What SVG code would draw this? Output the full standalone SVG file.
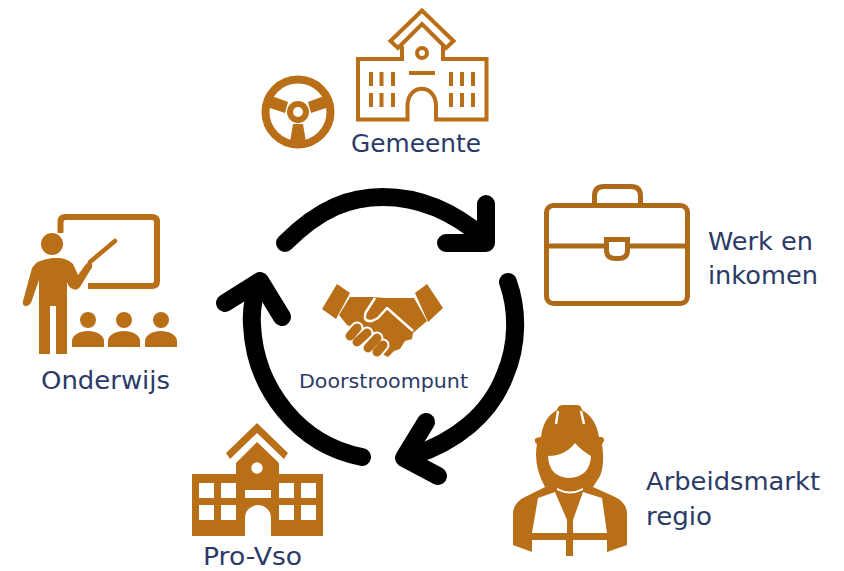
<svg xmlns="http://www.w3.org/2000/svg" width="844" height="571" viewBox="0 0 844 571">
<style>
.t{font-family:"DejaVu Sans",Verdana,sans-serif;font-size:25px;fill:#2b3a67}
.o{fill:#b96f17}
.w{fill:#fff}
.l{fill:none;stroke:#b96f17;stroke-width:4}
.b{fill:none;stroke:#ad6a18;stroke-width:5}
.a{fill:none;stroke:#000;stroke-width:18;stroke-linecap:round;stroke-linejoin:round}
.f{fill:none;stroke:#b96f17;stroke-width:9;stroke-linecap:round}
.g{fill:none;stroke:#fff;stroke-width:13;stroke-linecap:round}
.c{fill:none;stroke:#fff;stroke-width:2.500;stroke-linejoin:round}
</style>
<rect width="844" height="571" fill="#fff"/>
<g id="connectors">
<path class="a" d="M285 243C320 208 350 197 383 197C420 197 455 213 484 238"/>
<path class="a" d="M486 204V243H446"/>
<path class="a" d="M508 282C518 310 518 345 505 375C490 415 455 442 412 456"/>
<path class="a" d="M426 422L404 458L438 476"/>
<path class="a" d="M362 457C300 445 255 390 252 325C251 310 253 298 258 284"/>
<path class="a" d="M225 303L260 281L282 317"/>
</g>
<g id="stuur">
<circle cx="298" cy="112" r="32.500" fill="none" stroke="#b96f17" stroke-width="8"/>
<circle cx="298" cy="112" r="8" fill="none" stroke="#b96f17" stroke-width="6"/>
<path class="o" d="M272 96L288 102L285 113L267 107ZM324 96L308 102L311 113L329 107ZM293 124H303L306 142H290Z"/>
</g>
<g id="gemeente">
<path class="l" d="M422 10.500L390.500 41L398 48L422 24L446 48L453.500 41Z"/>
<path class="l" d="M402 46V59H358V119.500H407.500V106C407.500 83 436 83 436 106V119.500H486.500V59H443V46"/>
<circle class="l" cx="422" cy="53" r="5"/>
<path class="l" d="M409 73H435M371 72V86M371 93V107M381.500 72V86M381.500 93V107M393 72V86M393 93V107M451 72V86M451 93V107M462 72V86M462 93V107M473 72V86M473 93V107"/>
<text class="t" x="351" y="152" textLength="130" lengthAdjust="spacingAndGlyphs">Gemeente</text>
</g>
<g id="werk">
<rect class="b" x="546.500" y="205.500" width="141" height="98" rx="7"/>
<path class="b" d="M594.500 205V196Q594.500 186.500 604 186.500H631Q640.500 186.500 640.500 196V205"/>
<path class="b" d="M546 246H606.500M627.500 246H688M606.500 239.500H627.500V250Q627.500 258.500 619 258.500H615Q606.500 258.500 606.500 250Z"/>
<text class="t" x="708" y="250" textLength="105" lengthAdjust="spacingAndGlyphs">Werk en</text>
<text class="t" x="708" y="284" textLength="110" lengthAdjust="spacingAndGlyphs">inkomen</text>
</g>
<g id="arbeidsmarkt">
<path class="o" d="M563 405H577Q581 405 582 410Q596 418 599 437H602Q605 439 604 441Q603 443 602 444Q605 465 600 476L593 487L613 496Q627 502 627 514V545L607 552H532L513 545V514Q513 502 527 496L545 487Q533 465 537 444Q534 442 535 439Q537 437 541 437Q543 418 557 410Q558 405 563 405Z"/>
<path class="o" d="M566 540H573V556H566Z"/>
<path d="M558 411L556 424M581 411L584 424" fill="none" stroke="#fff" stroke-width="2.500"/>
<path class="w" d="M548 456Q565 456 575 443Q582 451 591 456Q590 477 569 478Q549 477 548 456Z"/>
<path class="w" d="M557 488Q570 495 583 488V490Q570 497 557 490Z"/>
<path class="w" d="M538 498L555 492L567 520V533H532ZM602 498L583 492L573 520V533H607Z"/>
<path class="w" d="M532 540H566V557H532ZM573 540H607V557H573Z"/>
<text class="t" x="646" y="490" textLength="174" lengthAdjust="spacingAndGlyphs">Arbeidsmarkt</text>
<text class="t" x="646" y="525" textLength="66" lengthAdjust="spacingAndGlyphs">regio</text>
</g>
<g id="provso">
<path class="o" d="M257 423L288 453L284 459L257 433L230 459L226 453Z"/>
<path class="o" d="M192 474H236V463L257 442L279 463V474H323V536H271V518A13 13 0 0 0 245 518V536H192Z"/>
<g class="w">
<circle cx="257" cy="468" r="5.700"/>
<rect x="199" y="483" width="15" height="15"/><rect x="221" y="483" width="15" height="15"/><rect x="279" y="483" width="15" height="15"/><rect x="301" y="483" width="15" height="15"/>
<rect x="199" y="505" width="15" height="15"/><rect x="221" y="505" width="15" height="15"/><rect x="279" y="505" width="15" height="15"/><rect x="301" y="505" width="15" height="15"/>
<rect x="245" y="490" width="26" height="8"/>
</g>
<text class="t" x="203" y="565" textLength="99" lengthAdjust="spacingAndGlyphs">Pro-Vso</text>
</g>
<g id="onderwijs">
<path class="l" style="stroke-width:6" d="M60.500 233V222Q60.500 217 65.500 217H152Q157 217 157 222V281Q157 286 152 286H88"/>
<circle class="o" cx="52" cy="244" r="11"/>
<path class="o" d="M32 268Q36 260 52 258H60Q68 259 73 264L78 275L86 264Q89 261 92 264Q93 267 91 269L80 287Q77 291 73 289Q69 288 67 282V354H56V306H50V354H39V280L31 303Q28 307 25 306Q22 305 23 301Z"/>
<path d="M90 262L115 241" fill="none" stroke="#b96f17" stroke-width="4.500" stroke-linecap="round"/>
<g class="o">
<circle cx="88" cy="320" r="8"/><circle cx="124" cy="320" r="8"/><circle cx="161" cy="320" r="8"/>
<path d="M72 347V341C72 335 80 331 88 331C96 331 104 335 104 341V347ZM108 347V341C108 335 116 331 124 331C132 331 140 335 140 341V347ZM145 347V341C145 335 153 331 161 331C169 331 177 335 177 341V347Z"/>
</g>
<text class="t" x="41" y="389" textLength="129" lengthAdjust="spacingAndGlyphs">Onderwijs</text>
</g>
<g id="doorstroompunt">
<path class="o" d="M337 284L350 293L336 319L322 309ZM427 284L443 308L428 322L415 293Z"/>
<path class="o" d="M350 297H373L385 298H414L427 321L413 333L412 339L405 341L400 349L394 351L388 357L382 354L360 330L347 325L339 315Z"/>
<path class="c" d="M375 298L366 312Q362 322 372 321L378 318L387 308L413 331"/>
<path class="g" d="M350 336L357 328M357 342L367 333M368 348L377 338M377 352L383 345"/>
<path class="f" d="M350 336L357 328M357 342L367 333M368 348L377 338M377 352L383 345"/>
<text x="299" y="388" textLength="169" lengthAdjust="spacingAndGlyphs" style="font-family:'DejaVu Sans',Verdana,sans-serif;font-size:20px;fill:#2b3a67">Doorstroompunt</text>
</g>
</svg>
